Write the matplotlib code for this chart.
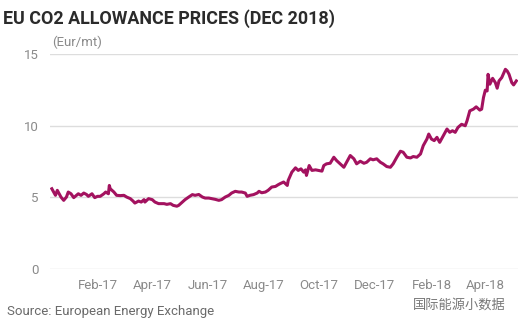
import matplotlib
matplotlib.use("Agg")
import matplotlib.pyplot as plt
import matplotlib.dates as mdates
import pandas as pd

# Daily-ish settlement prices (EUR/t)
dates = [
    "2016-12-12", "2016-12-16", "2016-12-18", "2016-12-22", "2016-12-25", "2016-12-28",
    "2016-12-30", "2017-01-02", "2017-01-05", "2017-01-08", "2017-01-10", "2017-01-13",
    "2017-01-16", "2017-01-19", "2017-01-21", "2017-01-25", "2017-01-28", "2017-01-31",
    "2017-02-03", "2017-02-07", "2017-02-09", "2017-02-12", "2017-02-13", "2017-02-14",
    "2017-02-18", "2017-02-21", "2017-02-25", "2017-03-01", "2017-03-04", "2017-03-08",
    "2017-03-11", "2017-03-13", "2017-03-17", "2017-03-20", "2017-03-23", "2017-03-24",
    "2017-03-28", "2017-04-01", "2017-04-04", "2017-04-08", "2017-04-12", "2017-04-14",
    "2017-04-17", "2017-04-21", "2017-04-24", "2017-04-28", "2017-04-30", "2017-05-04",
    "2017-05-07", "2017-05-11", "2017-05-15", "2017-05-18", "2017-05-22", "2017-05-26",
    "2017-05-29", "2017-06-02", "2017-06-05", "2017-06-09", "2017-06-13", "2017-06-16",
    "2017-06-20", "2017-06-24", "2017-06-27", "2017-07-01", "2017-07-05", "2017-07-08",
    "2017-07-12", "2017-07-14", "2017-07-17", "2017-07-21", "2017-07-25", "2017-07-27",
    "2017-07-30", "2017-08-03", "2017-08-06", "2017-08-10", "2017-08-14", "2017-08-17",
    "2017-08-19", "2017-08-23", "2017-08-27", "2017-08-28", "2017-09-01", "2017-09-05",
    "2017-09-08", "2017-09-11", "2017-09-14", "2017-09-16", "2017-09-17", "2017-09-20",
    "2017-09-23", "2017-09-27", "2017-09-30", "2017-10-04", "2017-10-06", "2017-10-09",
    "2017-10-13", "2017-10-17", "2017-10-20", "2017-10-24", "2017-10-28", "2017-10-31",
    "2017-11-04", "2017-11-08", "2017-11-11", "2017-11-15", "2017-11-19", "2017-11-22",
    "2017-11-26", "2017-11-29", "2017-12-03", "2017-12-07", "2017-12-10", "2017-12-14",
    "2017-12-18", "2017-12-21", "2017-12-25", "2017-12-29", "2018-01-01", "2018-01-05",
    "2018-01-09", "2018-01-12", "2018-01-16", "2018-01-20", "2018-01-23", "2018-01-27",
    "2018-01-29", "2018-02-01", "2018-02-04", "2018-02-07", "2018-02-10", "2018-02-14",
    "2018-02-18", "2018-02-21", "2018-02-24", "2018-02-27", "2018-03-02", "2018-03-06",
    "2018-03-10", "2018-03-12", "2018-03-15", "2018-03-19", "2018-03-22", "2018-03-26",
    "2018-03-28", "2018-03-30", "2018-04-01", "2018-04-03", "2018-04-04", "2018-04-06",
    "2018-04-09", "2018-04-12", "2018-04-14", "2018-04-16", "2018-04-19", "2018-04-23",
    "2018-04-25", "2018-04-27", "2018-04-30", "2018-05-02", "2018-05-05",
]
prices = [
    5.60, 5.14, 5.49, 5.02, 4.79, 5.02,
    5.37, 5.25, 4.98, 5.14, 5.25, 5.14,
    5.30, 5.20, 5.07, 5.25, 4.98, 5.07,
    5.07, 5.25, 5.37, 5.25, 5.83, 5.60,
    5.37, 5.14, 5.12, 5.14, 5.02, 4.91,
    4.74, 4.60, 4.74, 4.67, 4.84, 4.67,
    4.91, 4.84, 4.67, 4.56, 4.56, 4.56,
    4.51, 4.56, 4.44, 4.38, 4.44, 4.67,
    4.84, 5.02, 5.19, 5.14, 5.20, 5.02,
    4.95, 4.95, 4.91, 4.86, 4.79, 4.84,
    5.02, 5.14, 5.30, 5.42, 5.37, 5.37,
    5.30, 5.07, 5.14, 5.19, 5.30, 5.42,
    5.32, 5.37, 5.49, 5.72, 5.76, 5.88,
    5.95, 6.07, 5.83, 6.18, 6.76, 7.06,
    6.88, 6.99, 6.76, 6.92, 6.53, 7.22,
    6.88, 6.92, 6.88, 6.83, 7.22, 7.34,
    7.38, 7.80, 7.57, 7.34, 7.10, 7.45,
    7.92, 7.69, 7.34, 7.52, 7.38, 7.45,
    7.69, 7.62, 7.69, 7.45, 7.34, 7.15,
    7.10, 7.34, 7.80, 8.22, 8.15, 7.80,
    7.75, 7.85, 7.80, 8.03, 8.61, 9.07,
    9.42, 9.07, 8.96, 9.19, 8.84, 9.31,
    9.77, 9.54, 9.65, 9.54, 9.88, 10.10,
    10.00, 10.35, 11.04, 11.16, 11.32, 11.09,
    11.16, 11.97, 12.48, 12.43, 13.59, 12.90,
    13.31, 13.01, 12.62, 13.13, 13.36, 13.94,
    13.82, 13.59, 13.01, 12.85, 13.13,
]
y_ticks = [0, 5, 10, 15]

title = "EU CO2 ALLOWANCE PRICES (DEC 2018)"
unit = "(Eur/mt)"
source = "Source: European Energy Exchange"
watermark = "国际能源小数据"

dt = pd.to_datetime(dates)
line_color = "#a3125f"
grey = "#8a8a8a"

fig = plt.figure(figsize=(5.32, 3.30), dpi=100)
ax = fig.add_axes([0.094, 0.185, 0.88, 0.651])

ax.plot(dt, prices, color=line_color, linewidth=2.2, solid_joinstyle="round")

ax.set_ylim(0, 15)
ax.set_yticks(y_ticks)
ax.set_xlim(pd.Timestamp("2016-12-10"), pd.Timestamp("2018-05-07"))
ax.xaxis.set_major_locator(mdates.MonthLocator(bymonth=[2, 4, 6, 8, 10, 12], bymonthday=1))
ax.xaxis.set_major_formatter(mdates.DateFormatter("%b-%y"))

ax.grid(axis="y", color="#dddddd", linewidth=1)
ax.set_axisbelow(True)
for s in ax.spines.values():
    s.set_visible(False)
ax.tick_params(length=0, colors=grey, labelsize=9.5)
ax.tick_params(axis="y", pad=8)
ax.tick_params(axis="x", pad=7)
for lbl in ax.get_xticklabels() + ax.get_yticklabels():
    lbl.set_family("Roboto")

fig.text(0.006, 0.945, title, fontsize=12.9, fontweight="bold", color="#2b2b2b",
         family="Roboto", va="center", ha="left")
fig.text(0.098, 0.873, unit, fontsize=9.5, color=grey, family="Roboto", va="center")
fig.text(0.013, 0.055, source, fontsize=9.5, color="#6a6a6a", family="Roboto", va="center")
fig.text(0.95, 0.075, watermark, fontsize=9.5, color="#777777",
         family=["Noto Sans CJK SC", "DejaVu Sans"], va="center", ha="right")

fig.savefig("out.png", dpi=100)
